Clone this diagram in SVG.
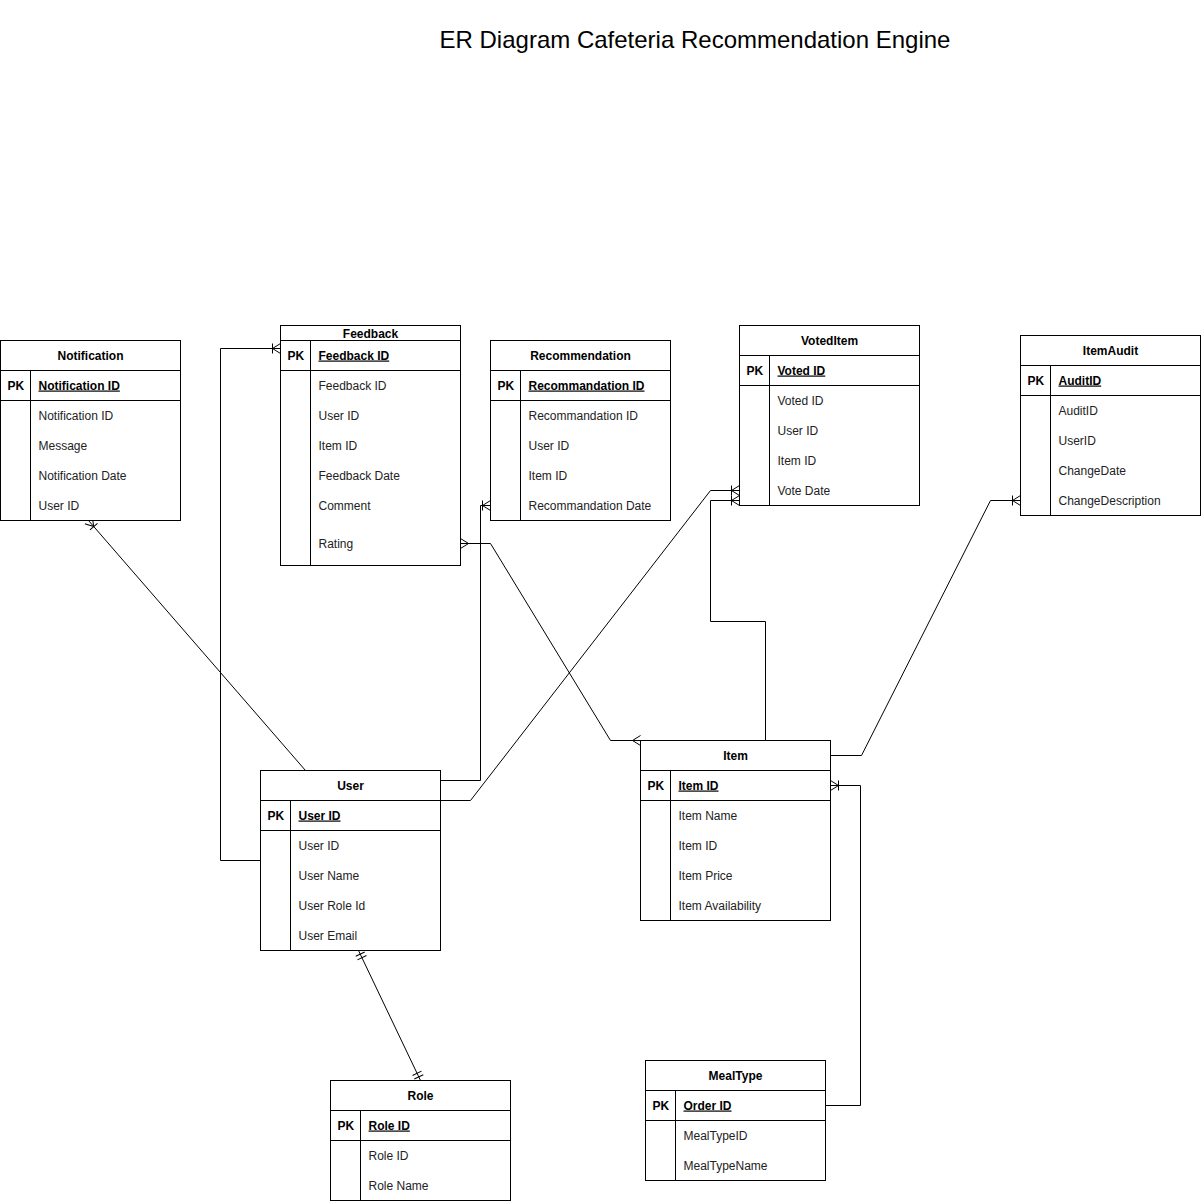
<svg xmlns="http://www.w3.org/2000/svg" width="1201" height="1201" viewBox="0 0 1201 1201">
<style>
.box{fill:#fff;stroke:#000;stroke-width:1}
.ln{stroke:#000;stroke-width:1}
text{font-family:"Liberation Sans",Arial,Helvetica,sans-serif;font-size:12px;fill:#000}
.hdr{font-weight:bold;text-anchor:middle}
.pk{font-weight:bold}
.pkn{font-weight:bold;text-decoration:underline}
.attr{fill:#222}
.title{font-size:24px;text-anchor:middle}
.conn path{fill:none;stroke:#000;stroke-width:1}
.mk{fill:none;stroke:#000;stroke-width:1}
</style>
<defs>
<marker id="oneMany" viewBox="0 0 20 20" markerWidth="20" markerHeight="20" refX="20" refY="10" markerUnits="userSpaceOnUse" orient="auto-start-reverse"><path class="mk" d="M12,10 L20,5 M12,10 L20,15 M12,5 L12,15"/></marker>
<marker id="many" viewBox="0 0 20 20" markerWidth="20" markerHeight="20" refX="20" refY="10" markerUnits="userSpaceOnUse" orient="auto-start-reverse"><path class="mk" d="M12,10 L20,5 M12,10 L20,15"/></marker>
<marker id="mandOne" viewBox="0 0 20 20" markerWidth="20" markerHeight="20" refX="20" refY="10" markerUnits="userSpaceOnUse" orient="auto-start-reverse"><path class="mk" d="M12,5 L12,15 M16,5 L16,15"/></marker>
</defs>
<rect width="1201" height="1201" fill="#fff"/>
<text class="title" x="695" y="48">ER Diagram Cafeteria Recommendation Engine</text>
<g transform="translate(0.5,0.5)">
<g id="connectors" class="conn">
<path d="M305,770 L88,520" marker-end="url(#oneMany)"/>
<path d="M260,860 L220,860 L220,348 L280,348" marker-end="url(#oneMany)"/>
<path d="M440,780 L480,780 L480,505 L490,505" marker-end="url(#oneMany)"/>
<path d="M440,800 L470,800 L710,490 L739,490" marker-end="url(#oneMany)"/>
<path d="M765,740 L765,621 L710,621 L710,500 L739,500" marker-end="url(#oneMany)"/>
<path d="M460,543 L490,543 L610,740 L640,740" marker-start="url(#many)" marker-end="url(#many)"/>
<path d="M830,755 L861,755 L990,500 L1020,500" marker-end="url(#oneMany)"/>
<path d="M825,1105 L860,1105 L860,785 L830,785" marker-end="url(#oneMany)"/>
<path d="M358,950 L420,1080" marker-start="url(#mandOne)" marker-end="url(#mandOne)"/>
</g>

<g id="notification">
<rect class="box" x="0" y="340" width="180" height="180"/>
<line class="ln" x1="0" y1="370" x2="180" y2="370"/>
<line class="ln" x1="0" y1="400" x2="180" y2="400"/>
<line class="ln" x1="30" y1="370" x2="30" y2="520"/>
<text class="hdr" x="90" y="359">Notification</text>
<text class="pk" x="7" y="389">PK</text>
<text class="pkn" x="38" y="389">Notification ID</text>
<text class="attr" x="38" y="419">Notification ID</text>
<text class="attr" x="38" y="449">Message</text>
<text class="attr" x="38" y="479">Notification Date</text>
<text class="attr" x="38" y="509">User ID</text>
</g>

<g id="feedback">
<rect class="box" x="280" y="325" width="180" height="240"/>
<line class="ln" x1="280" y1="340" x2="460" y2="340"/>
<line class="ln" x1="280" y1="370" x2="460" y2="370"/>
<line class="ln" x1="310" y1="340" x2="310" y2="565"/>
<text class="hdr" x="370" y="337">Feedback</text>
<text class="pk" x="287" y="359">PK</text>
<text class="pkn" x="318" y="359">Feedback ID</text>
<text class="attr" x="318" y="389">Feedback ID</text>
<text class="attr" x="318" y="419">User ID</text>
<text class="attr" x="318" y="449">Item ID</text>
<text class="attr" x="318" y="479">Feedback Date</text>
<text class="attr" x="318" y="509">Comment</text>
<text class="attr" x="318" y="547">Rating</text>
</g>

<g id="recommendation">
<rect class="box" x="490" y="340" width="180" height="180"/>
<line class="ln" x1="490" y1="370" x2="670" y2="370"/>
<line class="ln" x1="490" y1="400" x2="670" y2="400"/>
<line class="ln" x1="520" y1="370" x2="520" y2="520"/>
<text class="hdr" x="580" y="359">Recommendation</text>
<text class="pk" x="497" y="389">PK</text>
<text class="pkn" x="528" y="389">Recommandation ID</text>
<text class="attr" x="528" y="419">Recommandation ID</text>
<text class="attr" x="528" y="449">User ID</text>
<text class="attr" x="528" y="479">Item ID</text>
<text class="attr" x="528" y="509">Recommandation Date</text>
</g>

<g id="voteditem">
<rect class="box" x="739" y="325" width="180" height="180"/>
<line class="ln" x1="739" y1="355" x2="919" y2="355"/>
<line class="ln" x1="739" y1="385" x2="919" y2="385"/>
<line class="ln" x1="769" y1="355" x2="769" y2="505"/>
<text class="hdr" x="829" y="344">VotedItem</text>
<text class="pk" x="746" y="374">PK</text>
<text class="pkn" x="777" y="374">Voted ID</text>
<text class="attr" x="777" y="404">Voted ID</text>
<text class="attr" x="777" y="434">User ID</text>
<text class="attr" x="777" y="464">Item ID</text>
<text class="attr" x="777" y="494">Vote Date</text>
</g>

<g id="itemaudit">
<rect class="box" x="1020" y="335" width="180" height="180"/>
<line class="ln" x1="1020" y1="365" x2="1200" y2="365"/>
<line class="ln" x1="1020" y1="395" x2="1200" y2="395"/>
<line class="ln" x1="1050" y1="365" x2="1050" y2="515"/>
<text class="hdr" x="1110" y="354">ItemAudit</text>
<text class="pk" x="1027" y="384">PK</text>
<text class="pkn" x="1058" y="384">AuditID</text>
<text class="attr" x="1058" y="414">AuditID</text>
<text class="attr" x="1058" y="444">UserID</text>
<text class="attr" x="1058" y="474">ChangeDate</text>
<text class="attr" x="1058" y="504">ChangeDescription</text>
</g>

<g id="user">
<rect class="box" x="260" y="770" width="180" height="180"/>
<line class="ln" x1="260" y1="800" x2="440" y2="800"/>
<line class="ln" x1="260" y1="830" x2="440" y2="830"/>
<line class="ln" x1="290" y1="800" x2="290" y2="950"/>
<text class="hdr" x="350" y="789">User</text>
<text class="pk" x="267" y="819">PK</text>
<text class="pkn" x="298" y="819">User ID</text>
<text class="attr" x="298" y="849">User ID</text>
<text class="attr" x="298" y="879">User Name</text>
<text class="attr" x="298" y="909">User Role Id</text>
<text class="attr" x="298" y="939">User Email</text>
</g>

<g id="item">
<rect class="box" x="640" y="740" width="190" height="180"/>
<line class="ln" x1="640" y1="770" x2="830" y2="770"/>
<line class="ln" x1="640" y1="800" x2="830" y2="800"/>
<line class="ln" x1="670" y1="770" x2="670" y2="920"/>
<text class="hdr" x="735" y="759">Item</text>
<text class="pk" x="647" y="789">PK</text>
<text class="pkn" x="678" y="789">Item ID</text>
<text class="attr" x="678" y="819">Item Name</text>
<text class="attr" x="678" y="849">Item ID</text>
<text class="attr" x="678" y="879">Item Price</text>
<text class="attr" x="678" y="909">Item Availability</text>
</g>

<g id="role">
<rect class="box" x="330" y="1080" width="180" height="120"/>
<line class="ln" x1="330" y1="1110" x2="510" y2="1110"/>
<line class="ln" x1="330" y1="1140" x2="510" y2="1140"/>
<line class="ln" x1="360" y1="1110" x2="360" y2="1200"/>
<text class="hdr" x="420" y="1099">Role</text>
<text class="pk" x="337" y="1129">PK</text>
<text class="pkn" x="368" y="1129">Role ID</text>
<text class="attr" x="368" y="1159">Role ID</text>
<text class="attr" x="368" y="1189">Role Name</text>
</g>

<g id="mealtype">
<rect class="box" x="645" y="1060" width="180" height="120"/>
<line class="ln" x1="645" y1="1090" x2="825" y2="1090"/>
<line class="ln" x1="645" y1="1120" x2="825" y2="1120"/>
<line class="ln" x1="675" y1="1090" x2="675" y2="1180"/>
<text class="hdr" x="735" y="1079">MealType</text>
<text class="pk" x="652" y="1109">PK</text>
<text class="pkn" x="683" y="1109">Order ID</text>
<text class="attr" x="683" y="1139">MealTypeID</text>
<text class="attr" x="683" y="1169">MealTypeName</text>
</g>
</g>
</svg>
